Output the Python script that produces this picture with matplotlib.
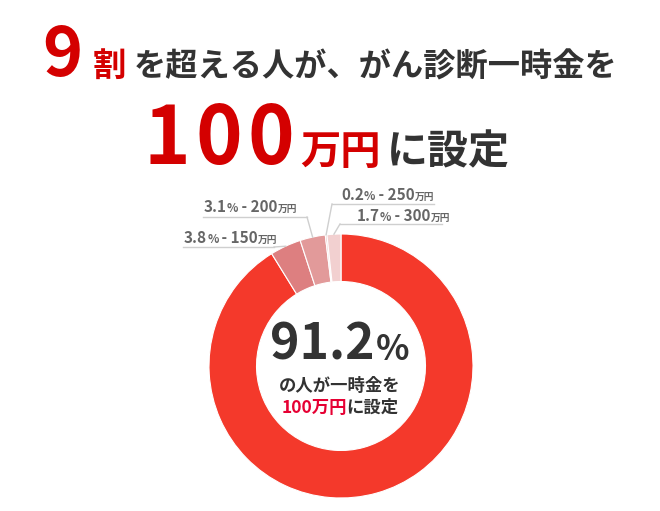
import matplotlib
matplotlib.use("Agg")
import matplotlib.pyplot as plt
import numpy as np

plt.rcParams['font.family'] = ['Noto Sans CJK JP', 'DejaVu Sans']

# data
amounts = ['100', '150', '200', '250', '300']
shares = [91.2, 3.8, 3.1, 0.2, 1.7]
slice_colors = ['#f4392b', '#dd7f80', '#e29a9a', '#e8b4b4', '#f2d0d0']

RED = '#d40000'
DARK = '#333333'
GRAY = '#666666'
LINE = '#cfcfcf'

fig = plt.figure(figsize=(6.6, 5.11), dpi=100)

# donut (center ~ (341, 366) px, radius 132 px)
ax = fig.add_axes([209 / 660, 13 / 511, 264 / 660, 264 / 511])
wedges, _ = ax.pie(shares, colors=slice_colors, startangle=90, counterclock=False,
                   radius=1.0, wedgeprops=dict(width=0.36, edgecolor='white', linewidth=0.8))
ax.set_xlim(-1, 1)
ax.set_ylim(-1, 1)
ax.axis('off')

# overlay in pixel coords for text and leader lines
ov = fig.add_axes([0, 0, 1, 1], zorder=5)
ov.set_xlim(0, 660)
ov.set_ylim(511, 0)
ov.axis('off')

renderer = fig.canvas.get_renderer()


def put_row(pieces, x, y, ha='left'):
    texts = []
    for s, size, color, gap in pieces:
        t = ov.text(0, y, s, fontsize=size, color=color, fontweight='bold',
                    va='baseline', ha='left')
        texts.append((t, gap))
    widths = [t.get_window_extent(renderer).width + g for t, g in texts]
    start = x - sum(widths) / 2 if ha == 'center' else x
    for (t, g), w in zip(texts, widths):
        t.set_x(start)
        start += w


# headline
put_row([('9', 49, RED, 10), ('割', 24, RED, 8),
         ('を超える人が、がん診断一時金を', 23.2, DARK, 0)], 42, 76)
put_row([('1', 57, RED, 5), ('0', 57, RED, 5), ('0', 57, RED, 6),
         ('万円', 29, RED, 6), ('に設定', 29.5, DARK, 0)], 144, 164)

# center text
put_row([('91.2', 36, DARK, 1), ('%', 25, DARK, 0)], 340, 360, ha='center')
put_row([('の人が一時金を', 12.5, DARK, 0)], 340, 391, ha='center')
put_row([('100万円', 12.5, '#e60033', 0), ('に設定', 12.5, DARK, 0)], 340, 413, ha='center')

# labels: (text x, baseline y, underline y, underline x0, x1, elbow x)
label_pos = {
    '150': (184, 243, 247, 183, 274, 274),
    '200': (204, 212, 217, 203, 307, 307),
    '250': (341, 200, 204, 332, 434, 332),
    '300': (357, 221, 224, 340, 442, 340),
}

to_px = ax.transData + ov.transData.inverted()
for amt, pct, w in zip(amounts, shares, wedges):
    if amt not in label_pos:
        continue
    tx, ty, uy, ux0, ux1, ex = label_pos[amt]
    put_row([(f'{pct:.1f}', 11, GRAY, 0), ('%', 8.5, GRAY, 0),
             (f' - {amt}', 11, GRAY, 0), ('万円', 7, GRAY, 0)], tx, ty)
    mid = np.deg2rad((w.theta1 + w.theta2) / 2)
    px, py = to_px.transform((np.cos(mid), np.sin(mid)))
    ov.plot([ux0, ux1], [uy, uy], color=LINE, lw=1)
    ov.plot([ex, px], [uy, py], color=LINE, lw=1)

fig.savefig('out.png', dpi=100)
